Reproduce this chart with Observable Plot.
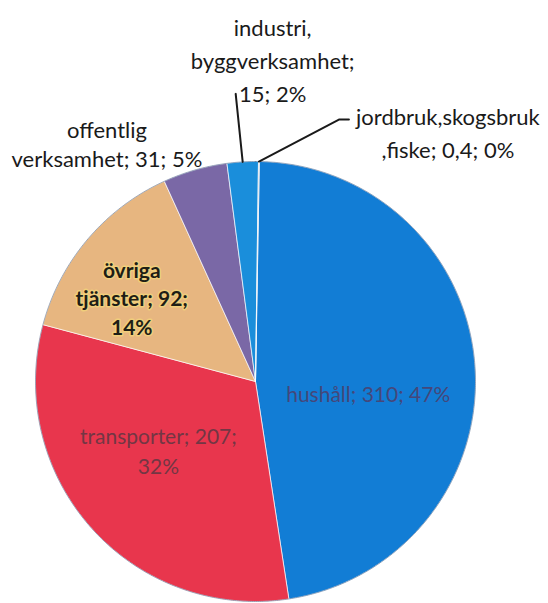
<!DOCTYPE html>
<html><head><meta charset="utf-8">
<script src="https://cdn.jsdelivr.net/npm/d3@7"></script>
<script src="https://cdn.jsdelivr.net/npm/@observablehq/plot@0.6"></script>
<style>
body{margin:0;background:#fff;}
#chart{width:548px;height:603px;overflow:hidden;}
</style>
</head><body><div id="chart"></div>
<script>
// ---- data ----
const categories = ["hushåll", "transporter", "övriga tjänster", "offentlig verksamhet", "industri, byggverksamhet", "jordbruk,skogsbruk ,fiske"];
const values = [310, 207, 92, 31, 15, 0.4];
const labelTexts = [
  "hushåll; 310; 47%",
  "transporter; 207;\n32%",
  "övriga\ntjänster; 92;\n14%",
  "offentlig\nverksamhet; 31; 5%",
  "industri,\nbyggverksamhet;\n15; 2%",
  "jordbruk,skogsbruk\n,fiske; 0,4; 0%"
];
const colors = ["#127dd5", "#e8364d", "#e7b680", "#7a68a6", "#1a8edb", "#aab4c6"];

// ---- layout ----
const W = 548, H = 603, CX = 255, CY = 381, R = 220;
const startAngle = Math.PI / 180;

const rows = categories.map((name, i) => ({name, value: values[i], label: labelTexts[i]}));
const arcs = d3.pie().sort(null).value(d => d.value)
  .startAngle(startAngle).endAngle(startAngle + 2 * Math.PI)(rows);

// slice polygons in radius units (angle clockwise from 12 o'clock)
const slicePts = [];
arcs.forEach(a => {
  const name = a.data.name;
  slicePts.push({name, x: 0, y: 0});
  const n = Math.max(2, Math.ceil((a.endAngle - a.startAngle) / (Math.PI / 360)));
  for (let j = 0; j <= n; j++) {
    const t = a.startAngle + (a.endAngle - a.startAngle) * j / n;
    slicePts.push({name, x: Math.sin(t), y: Math.cos(t)});
  }
  slicePts.push({name, x: 0, y: 0});
});
const rim = d3.range(0, 721).map(j => {
  const t = j / 720 * 2 * Math.PI;
  return {x: Math.sin(t), y: Math.cos(t)};
});

const mid = a => (a.startAngle + a.endAngle) / 2;
const at = (a, k) => ({x: Math.sin(mid(a)) * k, y: Math.cos(mid(a)) * k});

// label placement: radius factor along mid-angle + pixel offsets
const labelLayout = [
  {k: 0.55, dx: -8, dy: 19, size: 21, lh: 1.4, fill: "#45477a", halo: null, weight: 400},
  {k: 0.55, dx: -7, dy: -13, size: 21, lh: 1.45, fill: "#733644", halo: null, weight: 400},
  {k: 0.6, dx: -23, dy: 1, size: 21, lh: 1.38, fill: "#1e1e16", halo: "#f4d67a", weight: 700},
  {k: 1, dx: -88, dy: -27, size: 22, lh: 1.33, fill: "#1a1a1a", halo: null, weight: 400},
  {k: 1, dx: 30, dy: -103, size: 22, lh: 1.5, fill: "#1a1a1a", halo: null, weight: 400},
  {k: 1, dx: 189, dy: -31, size: 22, lh: 1.5, fill: "#1a1a1a", halo: null, weight: 400}
];

const textMarks = arcs.map((a, i) => {
  const L = labelLayout[i];
  const p = at(a, L.k);
  const d = [{x: p.x + L.dx / R, y: p.y - L.dy / R, text: a.data.label}];
  return Plot.text(d, {
    x: "x", y: "y", text: "text",
    fontSize: L.size, lineHeight: L.lh, fill: L.fill, fontWeight: L.weight,
    stroke: L.halo || "none", strokeWidth: L.halo ? 3 : 0, strokeOpacity: 0.75,
    textAnchor: "middle", lineAnchor: "middle"
  });
});

// leader lines for the two small slices (offsets in px from slice edge)
const leaderBends = {4: [[-7, -68]], 5: [[80, -42], [90, -42]]};
const leaderPts = [];
Object.entries(leaderBends).forEach(([i, bends]) => {
  const a = arcs[+i];
  const e = at(a, 1);
  leaderPts.push({id: i, x: e.x, y: e.y});
  bends.forEach(([dx, dy]) => leaderPts.push({id: i, x: e.x + dx / R, y: e.y - dy / R}));
});

const chart = Plot.plot({
  width: W, height: H,
  margin: 0,
  style: {fontFamily: "Lato, 'Open Sans', sans-serif", background: "#fff"},
  x: {domain: [-CX / R, (W - CX) / R], range: [0, W], axis: null},
  y: {domain: [-(H - CY) / R, CY / R], range: [H, 0], axis: null},
  color: {type: "ordinal", domain: categories, range: colors},
  marks: [
    Plot.line(slicePts, {x: "x", y: "y", z: "name", fill: "name", stroke: "#ffffff", strokeWidth: 0.8, strokeOpacity: 0.85, curve: "linear"}),
    Plot.line(rim, {x: "x", y: "y", stroke: "#34507a", strokeWidth: 1, strokeOpacity: 0.45}),
    Plot.line(leaderPts, {x: "x", y: "y", z: "id", stroke: "#1a1a1a", strokeWidth: 2}),
    ...textMarks
  ]
});
document.getElementById("chart").appendChild(chart);
</script>
</body></html>
